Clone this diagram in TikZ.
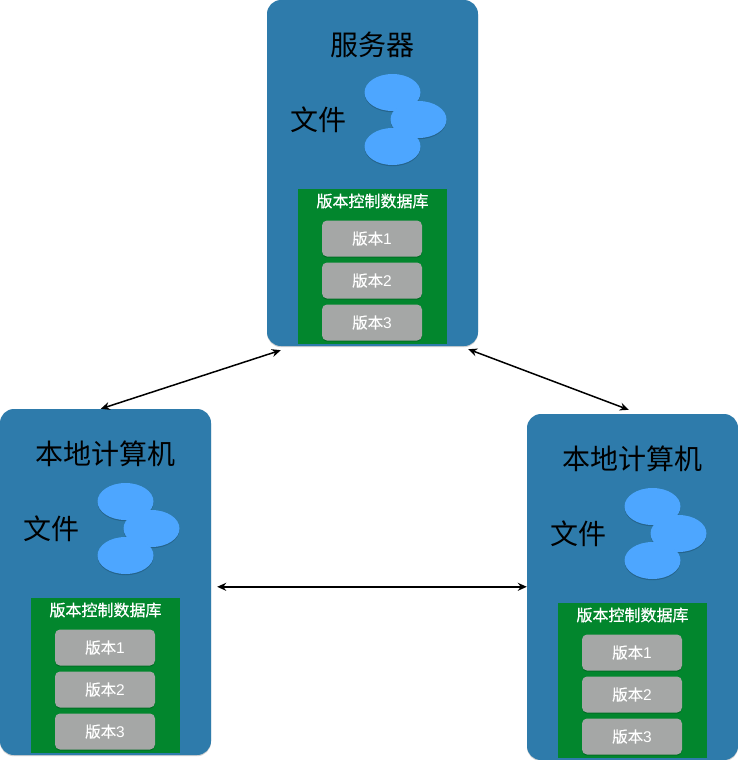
\documentclass[tikz,border=0pt]{standalone}
\usepackage{fontspec}
\setmainfont{Noto Sans CJK SC}
\newfontfamily\digitfont{Liberation Sans}
\newfontfamily\semibold[FakeBold=0.6]{Noto Sans CJK SC}
\newfontfamily\medium[FakeBold=0.3]{Noto Sans CJK SC}
\usetikzlibrary{shadows,arrows.meta,shapes.geometric}
\definecolor{cardblue}{HTML}{2E7BAB}
\definecolor{fileblue}{HTML}{4DA6FF}
\definecolor{dbgreen}{HTML}{02862D}
\definecolor{vergray}{HTML}{A5A7A6}
\tikzset{
  softshadow/.style={drop shadow={shadow xshift=0pt,shadow yshift=-1.2pt,fill=black,opacity=0.18}},
  card/.style={rectangle,rounded corners=14pt,fill=cardblue,minimum width=211pt,minimum height=346pt,inner sep=0pt,softshadow},
  filedisc/.style={ellipse,fill=fileblue,minimum width=56pt,minimum height=37pt,inner sep=0pt,softshadow},
  dbbox/.style={rectangle,fill=dbgreen,minimum width=149pt,minimum height=155pt,inner sep=0pt},
  verbox/.style={rectangle,rounded corners=5pt,fill=vergray,minimum width=100pt,minimum height=36pt,inner sep=0pt,text=white,font=\medium\fontsize{15.5pt}{17pt}\selectfont,softshadow},
  bigtext/.style={inner sep=0pt,text=black,font=\fontsize{28pt}{30pt}\selectfont},
  dbtitle/.style={inner sep=0pt,text=white,font=\semibold\fontsize{16pt}{18pt}\selectfont},
  link/.style={draw=black,line width=1.5pt,{Stealth[length=9pt,width=8pt]}-{Stealth[length=9pt,width=8pt]}}
}
\newcommand{\machine}[4]{%
  \begin{scope}[shift={(#2,#3)}]
    \node[card] (#1card) at (372.5,173) {};
    \node[bigtext] (#1title) at (372,45) {#4};
    \node[bigtext] (#1files) at (318.5,120) {文件};
    \node[filedisc] (#1a) at (392.5,92.5) {};
    \node[filedisc] (#1b) at (418.5,119.5) {};
    \node[filedisc] (#1c) at (392.5,146.5) {};
    \node[dbbox] (#1db) at (372.5,266.5) {};
    \node[dbtitle] (#1dbt) at (372.5,201) {版本控制数据库};
    \node[verbox] (#1v1) at (372,238.5) {版本{\digitfont 1}};
    \node[verbox] (#1v2) at (372,280.5) {版本{\digitfont 2}};
    \node[verbox] (#1v3) at (372,322.5) {版本{\digitfont 3}};
  \end{scope}%
}
\begin{document}
\begin{tikzpicture}[x=1pt,y=-1pt]
  \useasboundingbox (0,0) rectangle (738,760);
  \fill[white] (0,0) rectangle (738,760);
  \machine{srv}{0}{0}{服务器}
  \machine{lft}{-267}{409}{本地计算机}
  \machine{rgt}{260}{414}{本地计算机}
  \draw[link] ([shift={(14,4)}]srvcard.south west) -- ([shift={(101,0)}]lftcard.north west);
  \draw[link] ([shift={(-10,3)}]srvcard.south east) -- ([shift={(102,-4)}]rgtcard.north west);
  \draw[link] ([shift={(6,178)}]lftcard.north east) -- ([shift={(0,173)}]rgtcard.north west);
\end{tikzpicture}
\end{document}
